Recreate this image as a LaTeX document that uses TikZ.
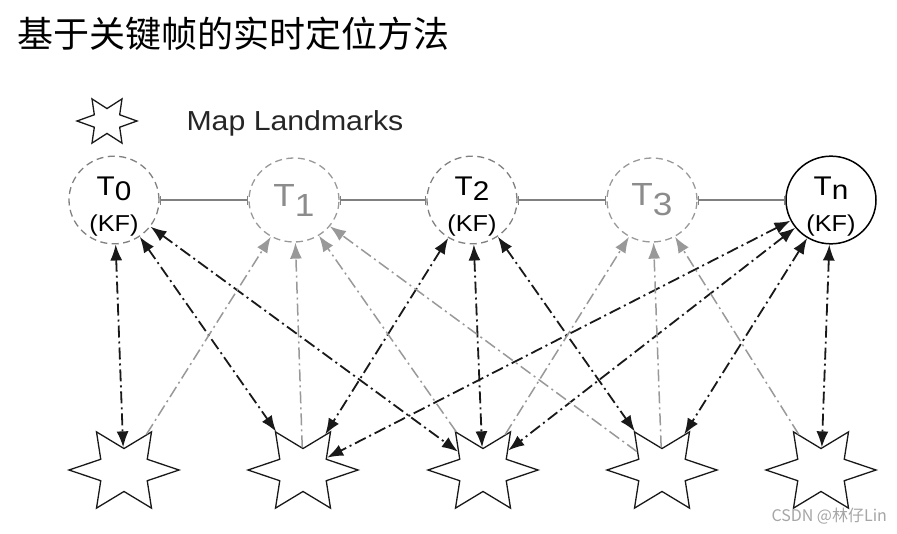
\documentclass[tikz,border=0pt]{standalone}
\usepackage{fontspec}
\setmainfont{Liberation Sans}[FakeStretch=1.1]
\newfontfamily\cjk{Noto Sans CJK SC}
\usetikzlibrary{arrows.meta,shapes.geometric}
\newcommand\Tsub[2]{T\raisebox{-#1}{#2}}

\begin{document}
\begin{tikzpicture}[x=1pt, y=-1pt,
  frame/.style={ellipse, minimum width=90pt, minimum height=84pt, inner sep=0pt, align=center},
  kf/.style={frame, draw=black!50, line width=1.3pt, dash pattern=on 7pt off 4.5pt,
    font=\fontsize{27}{36}\selectfont, text height=62pt, text depth=-4pt},
  skipped/.style={frame, draw=black!40, line width=1.3pt, dash pattern=on 7pt off 4.5pt,
    text=black!45, font=\fontsize{32}{36}\selectfont},
  landmark/.style={star, star points=6, star point ratio=2.05, shape border rotate=90,
    minimum size=110pt, inner sep=0pt, draw=black!90, line width=1.3pt, fill=white},
  link/.style={draw=black!50, line width=1.2pt, {Bar[width=9pt]}-{Bar[width=9pt]}},
  obs/.style={draw=black!90, line width=1.8pt, dash pattern=on 12pt off 4pt on 2pt off 4pt,
    {Latex[length=16pt,width=12pt]}-{Latex[length=16pt,width=12pt]}},
  guess/.style={draw=black!40, line width=1.5pt, dash pattern=on 12pt off 4pt on 2pt off 4pt,
    -{Latex[length=16pt,width=12pt]}},
]
  \fill[white] (0,0) rectangle (897,533);
  \useasboundingbox (0,0) rectangle (897,533);

  \node[anchor=base west, font=\cjk\fontsize{36}{36}\selectfont] (title) at (14,47) {基于关键帧的实时定位方法};

  % legend
  \begin{scope}[shift={(107,121)}, yscale=0.85]
    \node[landmark, minimum size=60pt, transform shape] (key) at (0,0) {};
  \end{scope}
  \node[anchor=base west, text=black!85, font=\fontsize{27.5}{27.5}\selectfont] (keytext) at (183,130) {Map Landmarks};

  % poses
  \node[kf] (t0) at (114,200) {\Tsub{5pt}{0}\\{\fontsize{23}{36}\selectfont (KF)}};
  \node[skipped] (t1) at (294,200) {\Tsub{10pt}{1}};
  \node[kf] (t2) at (472,200) {\Tsub{5pt}{2}\\{\fontsize{23}{36}\selectfont (KF)}};
  \node[skipped] (t3) at (652,200) {\Tsub{10pt}{3}};
  \node[kf, draw=black, solid, line width=1.5pt] (tn) at (831,200) {\Tsub{4pt}{n}\\{\fontsize{23}{36}\selectfont (KF)}};

  % landmarks
  \foreach \x [count=\i] in {124,303,483,662,821}{
    \begin{scope}[shift={(\x,470)}, yscale=0.8]
      \node[landmark, transform shape] (s\i) at (0,0) {};
    \end{scope}
  }

  \foreach \a/\b in {t0/t1,t1/t2,t2/t3,t3/tn} \draw[link] (\a) -- (\b);

  % keyframes see their landmarks both ways
  \foreach \a/\b in {t0/s1,t0/s2,t0/s3,t2/s2,t2/s3,t2/s4,tn/s2,tn/s3,tn/s4,tn/s5}
    \draw[obs] (\a) -- (\b);

  % other frames
  \foreach \a/\b in {s1/t1,s2/t1,s3/t1,s4/t1,s3/t3,s4/t3,s5/t3}
    \draw[guess] (\a) -- (\b);

  \node[anchor=base west, text=black!35, font=\cjk\fontsize{16}{16}\selectfont] (mark) at (768,521) {CSDN @林仔Lin};
\end{tikzpicture}
\end{document}
